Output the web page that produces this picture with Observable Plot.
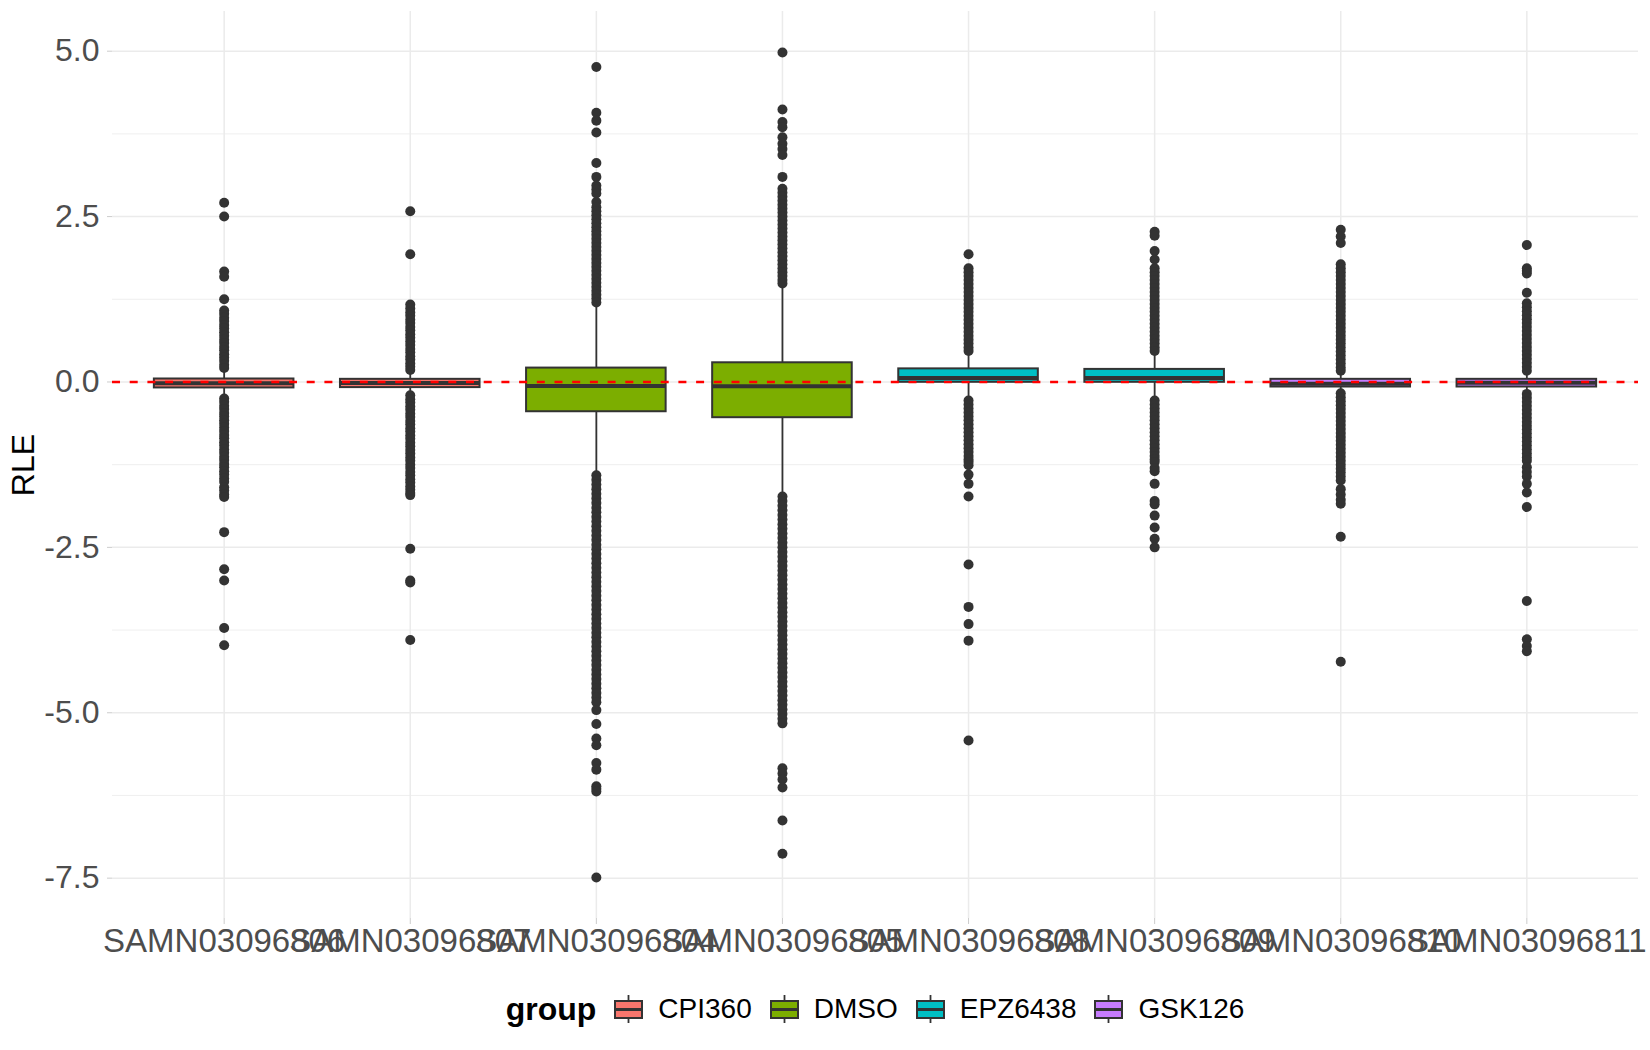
<!DOCTYPE html>
<html>
<head>
<meta charset="utf-8">
<script src="https://cdn.jsdelivr.net/npm/d3@7"></script>
<script src="https://cdn.jsdelivr.net/npm/@observablehq/plot@0.6"></script>
<style>
  body { margin: 0; background: #fff; font-family: "Liberation Sans", Arial, sans-serif; }
  #chart svg { display: block; }
  #legend { width: 1650px; height: 58px; box-sizing: border-box; padding-left: 112px; padding-right: 12px;
            display: flex; align-items: center; justify-content: center; }
  #legend .title { font-weight: bold; font-size: 32px; color: #000; margin-right: 18px; }
  #legend .key { display: block; margin-left: 18px; }
  #legend .key.first { margin-left: 0; }
  #legend .lab { font-size: 28px; color: #000; margin-left: 15px; }
</style>
</head>
<body>
<div id="chart"></div>
<div id="legend"></div>
<script>
// ---- data ----
const samples = ["SAMN03096806","SAMN03096807","SAMN03096804","SAMN03096805",
                 "SAMN03096808","SAMN03096809","SAMN03096810","SAMN03096811"];
const sampleGroup = ["CPI360","CPI360","DMSO","DMSO","EPZ6438","EPZ6438","GSK126","GSK126"];
const groups = ["CPI360","DMSO","EPZ6438","GSK126"];
const groupColors = ["#F8766D","#7CAE00","#00BFC4","#C77CFF"];

const q1     = [-0.09, -0.085, -0.45, -0.54, -0.005, -0.005, -0.076, -0.076];
const median = [-0.02, -0.015, -0.06, -0.065, 0.06, 0.06, -0.025, -0.01];
const q3     = [0.045, 0.04, 0.21, 0.29, 0.198, 0.19, 0.04, 0.04];
const lowerWhisker = [-0.23, -0.18, -1.41, -1.73, -0.26, -0.26, -0.15, -0.18];
const upperWhisker = [0.19, 0.17, 1.18, 1.49, 0.44, 0.44, 0.15, 0.15];

const out806 = [2.71,2.50,1.67,1.59,1.25,1.08,1.03,0.97,0.92,0.86,0.81,0.75,0.70,0.64,0.59,0.53,0.48,0.42,0.37,0.32,0.26,0.21,
  -0.25,-0.30,-0.36,-0.41,-0.47,-0.52,-0.58,-0.63,-0.69,-0.74,-0.80,-0.85,-0.91,-0.96,-1.02,-1.07,-1.13,-1.18,-1.24,-1.29,-1.35,-1.40,-1.46,-1.51,
  -1.59,-1.64,-1.70,-1.74,-2.27,-2.83,-3.00,-3.72,-3.98];
const out807 = [2.58,1.93,1.17,1.11,1.05,1.00,0.94,0.89,0.83,0.78,0.72,0.67,0.61,0.56,0.50,0.45,0.39,0.34,0.28,0.23,0.18,
  -0.20,-0.26,-0.31,-0.37,-0.42,-0.48,-0.53,-0.59,-0.64,-0.70,-0.75,-0.81,-0.86,-0.92,-0.97,-1.03,-1.08,-1.14,-1.19,-1.25,-1.30,-1.36,-1.41,-1.47,-1.52,-1.58,-1.63,-1.68,-1.71,
  -2.52,-3.00,-3.03,-3.90];
const out804 = [4.76,4.07,3.95,3.77,3.31,3.10,2.97,2.91,2.85,2.72,
  2.64,2.58,2.52,2.46,2.40,2.34,2.28,2.22,2.16,2.10,2.04,1.98,1.92,1.86,1.80,1.74,1.68,1.62,1.56,1.50,1.44,1.38,1.32,1.26,1.20,
  -1.41,-1.48,-1.55,-1.62,-1.69,-1.76,-1.83,-1.90,-1.97,-2.04,-2.11,-2.18,-2.25,-2.32,-2.39,-2.46,-2.53,-2.60,-2.67,-2.74,
  -2.81,-2.88,-2.95,-3.02,-3.09,-3.16,-3.23,-3.30,-3.37,-3.44,-3.51,-3.58,-3.65,-3.72,-3.79,-3.86,-3.93,-4.00,-4.07,-4.14,
  -4.21,-4.28,-4.35,-4.42,-4.49,-4.56,-4.63,-4.70,-4.77,-4.84,
  -4.96,-5.17,-5.39,-5.49,-5.76,-5.86,-6.11,-6.15,-6.19,-7.49];
const out805 = [4.98,4.12,3.93,3.85,3.70,3.60,3.52,3.43,3.10,
  2.92,2.86,2.80,2.74,2.68,2.62,2.56,2.50,2.44,2.38,2.32,2.26,2.20,2.14,2.08,2.02,1.96,1.90,1.84,1.78,1.72,1.66,1.60,1.54,1.49,
  -1.73,-1.80,-1.87,-1.94,-2.01,-2.08,-2.15,-2.22,-2.29,-2.36,-2.43,-2.50,-2.57,-2.64,-2.71,-2.78,-2.85,-2.92,-2.99,-3.06,
  -3.13,-3.20,-3.27,-3.34,-3.41,-3.48,-3.55,-3.62,-3.69,-3.76,-3.83,-3.90,-3.97,-4.04,-4.11,-4.18,-4.25,-4.32,-4.39,-4.46,
  -4.53,-4.60,-4.67,-4.74,-4.81,-4.88,-4.95,-5.02,-5.09,-5.16,
  -5.84,-5.92,-6.01,-6.13,-6.63,-7.13];
const out808 = [1.93,1.72,1.66,1.60,1.54,1.48,1.42,1.36,1.30,1.24,1.18,1.12,1.06,1.00,0.94,0.88,0.82,0.76,0.70,0.64,0.58,0.52,0.47,
  -0.28,-0.34,-0.40,-0.46,-0.52,-0.58,-0.64,-0.70,-0.76,-0.82,-0.88,-0.94,-1.00,-1.06,-1.12,-1.17,-1.21,-1.26,
  -1.40,-1.54,-1.73,-2.76,-3.40,-3.66,-3.91,-5.42];
const out809 = [2.27,2.21,1.98,1.85,1.72,1.66,1.60,1.54,1.48,1.42,1.36,1.30,1.24,1.18,1.12,1.06,1.00,0.94,0.88,0.82,0.76,0.70,0.64,0.58,0.52,0.47,
  -0.28,-0.34,-0.40,-0.46,-0.52,-0.58,-0.64,-0.70,-0.76,-0.82,-0.88,-0.94,-1.00,-1.06,-1.12,-1.17,-1.21,
  -1.30,-1.35,-1.54,-1.80,-1.85,-2.02,-2.20,-2.37,-2.50];
const out810 = [2.30,2.20,2.10,1.78,1.72,1.66,1.60,1.54,1.48,1.42,1.36,1.30,1.24,1.18,1.12,1.06,1.00,0.94,0.88,0.82,0.76,0.70,0.64,0.58,0.52,0.46,0.40,0.34,0.28,0.22,0.17,
  -0.17,-0.23,-0.29,-0.35,-0.41,-0.47,-0.53,-0.59,-0.65,-0.71,-0.77,-0.83,-0.89,-0.95,-1.01,-1.07,-1.13,-1.19,-1.25,-1.31,-1.37,-1.43,-1.49,
  -1.62,-1.70,-1.78,-1.84,-2.34,-4.23];
const out811 = [2.07,1.72,1.68,1.64,1.35,1.19,1.13,1.07,1.01,0.95,0.89,0.83,0.77,0.71,0.65,0.59,0.53,0.47,0.41,0.35,0.29,0.23,0.17,
  -0.18,-0.24,-0.30,-0.36,-0.42,-0.48,-0.54,-0.60,-0.66,-0.72,-0.78,-0.84,-0.90,-0.96,-1.02,-1.08,-1.14,-1.19,
  -1.29,-1.36,-1.43,-1.54,-1.67,-1.89,-3.31,-3.89,-3.99,-4.07];
const outlierLists = [out806, out807, out804, out805, out808, out809, out810, out811];

const yTicks = [-7.5, -5.0, -2.5, 0.0, 2.5, 5.0];
const yMinor = [-6.25, -3.75, -1.25, 1.25, 3.75];
const yDomain = [-8.11, 5.60];

// ---- tables built from the arrays ----
const boxes = samples.map((s, i) => ({
  sample: s, group: sampleGroup[i], q1: q1[i], median: median[i], q3: q3[i],
  lo: lowerWhisker[i], hi: upperWhisker[i]
}));
const outliers = samples.flatMap((s, i) => outlierLists[i].map(v => ({sample: s, value: v})));

const grid = "#EBEBEB";
const dark = "#333333";

const plot = Plot.plot({
  width: 1650,
  height: 980,
  marginLeft: 112,
  marginRight: 12,
  marginTop: 11,
  marginBottom: 62,
  style: {fontFamily: "'Liberation Sans', Arial, sans-serif", background: "#fff"},
  x: {domain: samples, paddingInner: 0.25, paddingOuter: 0.225, align: 0.5, round: false, label: null},
  y: {domain: yDomain, label: null},
  color: {domain: groups, range: groupColors},
  marks: [
    Plot.ruleY(yMinor, {stroke: grid, strokeWidth: 0.8}),
    Plot.ruleY(yTicks, {stroke: grid, strokeWidth: 1.5}),
    Plot.ruleX(samples, {x: d => d, stroke: grid, strokeWidth: 1.5}),
    Plot.ruleX(boxes, {x: "sample", y1: "lo", y2: "hi", stroke: dark, strokeWidth: 1.8}),
    Plot.barY(boxes, {x: "sample", y1: "q1", y2: "q3", fill: "group", stroke: dark, strokeWidth: 2, inset: 0}),
    Plot.tickY(boxes, {x: "sample", y: "median", stroke: dark, strokeWidth: 4}),
    Plot.dot(outliers, {x: "sample", y: "value", r: 5, fill: dark, stroke: "none"}),
    Plot.ruleY([0], {stroke: "#FF0000", strokeWidth: 2.5, strokeDasharray: "8,9.7"}),
    Plot.axisY({ticks: yTicks, tickFormat: d => d.toFixed(1), tickSize: 5, tickPadding: 8,
                stroke: "#CCCCCC", fill: "#4D4D4D", fontSize: 32, label: null}),
    Plot.axisX({tickSize: 6, tickPadding: 4, stroke: "#CCCCCC", fill: "#4D4D4D", fontSize: 33, label: null}),
    Plot.text(["RLE"], {frameAnchor: "left", dx: -89, rotate: -90, textAnchor: "middle", fontSize: 32, fill: "#000"})
  ]
});
document.getElementById("chart").appendChild(plot);

// ---- legend (HTML, below the SVG) ----
const legend = document.getElementById("legend");
const t = document.createElement("span");
t.className = "title"; t.textContent = "group";
legend.appendChild(t);
groups.forEach((g, i) => {
  const ns = "http://www.w3.org/2000/svg";
  const svg = document.createElementNS(ns, "svg");
  svg.setAttribute("width", 29); svg.setAttribute("height", 28);
  svg.setAttribute("class", i === 0 ? "key first" : "key");
  svg.innerHTML = `<line x1="14.5" x2="14.5" y1="0" y2="28" stroke="${dark}" stroke-width="1.8"/>
    <rect x="1" y="6" width="27" height="17" fill="${groupColors[i]}" stroke="${dark}" stroke-width="2"/>
    <line x1="1" x2="28" y1="14.5" y2="14.5" stroke="${dark}" stroke-width="3"/>`;
  legend.appendChild(svg);
  const lab = document.createElement("span");
  lab.className = "lab"; lab.textContent = g;
  legend.appendChild(lab);
});
</script>
</body>
</html>
